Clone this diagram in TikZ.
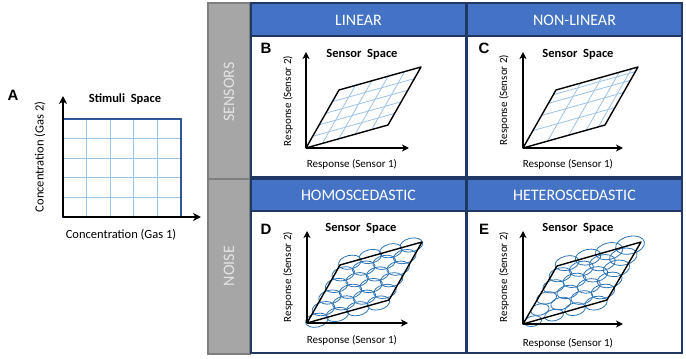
\documentclass[tikz,border=0pt]{standalone}
\usepackage{fontspec}
\setmainfont{Carlito}
\newfontfamily\letterfont{Liberation Sans}
\usetikzlibrary{arrows.meta,calc}
\definecolor{hdrblue}{HTML}{4472C4}
\definecolor{darkblue}{HTML}{203864}
\definecolor{graycol}{HTML}{A6A6A6}
\definecolor{grayborder}{HTML}{7F7F7F}
\definecolor{gridblue}{HTML}{9DC3E6}
\definecolor{ellblue}{HTML}{2E75B6}
\definecolor{rectblue}{HTML}{2F5597}
\definecolor{sidetxt}{HTML}{E4E4E4}
\tikzset{
  ax/.style={line width=1.8pt, -{Stealth[length=7pt,width=7pt,inset=2pt]}},
  bigax/.style={line width=2.8pt, -{Stealth[length=8pt,width=8pt,inset=2.5pt]}},
  para/.style={line width=1.4pt, line join=round},
  gridl/.style={draw=gridblue, line width=0.8pt},
  ell/.style={draw=ellblue, line width=0.8pt},
  hdr/.style={fill=hdrblue, draw=darkblue, line width=1.5pt},
  panel/.style={fill=white, draw=darkblue, line width=1.5pt},
  side/.style={fill=graycol, draw=grayborder, line width=1.5pt},
  hdrtxt/.style={text=white, font=\fontsize{16}{18}\selectfont},
  sidet/.style={text=sidetxt, rotate=90, font=\fontsize{16}{18}\selectfont},
  lett/.style={font=\letterfont\fontsize{15}{17}\selectfont\bfseries},
  ttl/.style={font=\fontsize{12.5}{14}\selectfont\bfseries},
  axl/.style={font=\fontsize{11}{12}\selectfont},
  axlbig/.style={font=\fontsize{12.5}{14}\selectfont},
}
\begin{document}
\begin{tikzpicture}[x=1pt,y=-1pt]
\useasboundingbox (0,0) rectangle (686,359);
\fill[white] (0,0) rectangle (686,359);

% ---------- side gray column ----------
\draw[side] (208,3) rectangle (250,179);
\draw[side] (208,179) rectangle (250,354);
\node[sidet] (tsens) at (229,92) {SENSORS};
\node[sidet] (tnoise) at (229,266) {NOISE};

% ---------- headers and panels ----------
\draw[hdr] (251,3) rectangle (466,36);
\draw[hdr] (467,3) rectangle (682,36);
\draw[panel] (251,36) rectangle (466,177);
\draw[panel] (467,36) rectangle (682,177);
\draw[hdr] (251,179) rectangle (466,211);
\draw[hdr] (467,179) rectangle (682,211);
\draw[panel] (251,211) rectangle (466,353);
\draw[panel] (467,211) rectangle (682,353);
\node[hdrtxt] (hlin) at (358.5,20) {LINEAR};
\node[hdrtxt] (hnon) at (574.5,20) {NON-LINEAR};
\node[hdrtxt] (hhom) at (358.5,195.5) {HOMOSCEDASTIC};
\node[hdrtxt] (hhet) at (574.5,195.5) {HETEROSCEDASTIC};

% ---------- panel A: stimuli space ----------
\foreach \k in {1,...,4}{
  \draw[gridl] ({63+\k*118/5},217) -- ({63+\k*118/5},119);
  \draw[gridl] (63,{217-\k*98/5}) -- (181,{217-\k*98/5});
}
\draw[draw=rectblue, line width=1.2pt] (63,217) rectangle (181,119);
\coordinate (oA) at (63,217);
\coordinate (yA) at (63,96);
\coordinate (xA) at (201,217);
\draw[bigax] (oA) -- (yA);
\draw[bigax] (oA) -- (xA);
\node[lett] (lA) at (13,95) {A};
\node[ttl] (tA) at (125,99) {Stimuli\ \ Space};
\node[axlbig, rotate=90] (yAl) at (40,157) {Concentration (Gas 2)};
\node[axlbig] (xAl) at (121,235) {Concentration (Gas 1)};

% ---------- panel B: linear ----------
\begin{scope}[shift={(306,148)}]
  \foreach \k in {1,...,4}{
    \draw[gridl] ({\k/5*82},{\k/5*-23}) -- ++(33,-58);
    \draw[gridl] ({\k/5*33},{\k/5*-58}) -- ++(82,-23);
  }
  \draw[para] (0,0) -- (33,-58) -- (115,-81) -- (82,-23) -- cycle;
  \coordinate (oB) at (0,0);
  \coordinate (yB) at (0,-96);
  \coordinate (xB) at (103,0);
  \draw[ax] (oB) -- (yB);
  \draw[ax] (oB) -- (xB);
\end{scope}
\node[lett] (lB) at (266,48) {B};
\node[ttl] (tB) at (362,54) {Sensor\ \ Space};
\node[axl, rotate=90] (yBl) at (288,101) {Response (Sensor 2)};
\node[axl] (xBl) at (352,164) {Response (Sensor 1)};

% ---------- panel C: non-linear ----------
\begin{scope}[shift={(523,148)}]
  \foreach \f in {0.3,0.56,0.77,0.92}{
    \draw[gridl] ({\f*82},{\f*-23}) -- ++(33,-58);
    \draw[gridl] ({\f*33},{\f*-58}) -- ++(82,-23);
  }
  \draw[para] (0,0) -- (33,-58) -- (115,-81) -- (82,-23) -- cycle;
  \coordinate (oC) at (0,0);
  \coordinate (yC) at (0,-96);
  \coordinate (xC) at (100,0);
  \draw[ax] (oC) -- (yC);
  \draw[ax] (oC) -- (xC);
\end{scope}
\node[lett] (lC) at (484,48) {C};
\node[ttl] (tC) at (578,54) {Sensor\ \ Space};
\node[axl, rotate=90] (yCl) at (504,100) {Response (Sensor 2)};
\node[axl] (xCl) at (568,164) {Response (Sensor 1)};

% ---------- panel D: homoscedastic ----------
\begin{scope}[shift={(307,323)}]
  \foreach \j in {0,...,5}{
    \foreach \i in {0,...,3}{
      \pgfmathsetmacro\u{0.12+\i*0.25}
      \pgfmathsetmacro\v{\j/5}
      \pgfmathsetmacro\cx{\u*82+\v*33}
      \pgfmathsetmacro\cy{\u*-23+\v*-58}
      \draw[ell, rotate around={13:(\cx,\cy)}] (\cx,\cy) ellipse [x radius=11.5, y radius=6.8];
    }
  }
  \draw[para] (0,0) -- (33,-58) -- (115,-81) -- (82,-23) -- cycle;
  \coordinate (oD) at (0,0);
  \coordinate (yD) at (0,-92);
  \coordinate (xD) at (101,0);
  \draw[ax] (oD) -- (yD);
  \draw[ax] (oD) -- (xD);
\end{scope}
\node[lett] (lD) at (266,229) {D};
\node[ttl] (tD) at (361,228) {Sensor\ \ Space};
\node[axl, rotate=90] (yDl) at (288,277) {Response (Sensor 2)};
\node[axl] (xDl) at (352,340) {Response (Sensor 1)};

% ---------- panel E: heteroscedastic ----------
\begin{scope}[shift={(523,324)}]
  \foreach \j in {0,...,5}{
    \foreach \i in {0,...,3}{
      \pgfmathsetmacro\u{0.12+\i*0.25}
      \pgfmathsetmacro\v{\j/5}
      \pgfmathsetmacro\cx{\u*84+\v*34}
      \pgfmathsetmacro\cy{\u*-24+\v*-58}
      \pgfmathsetmacro\s{0.72+0.3*(\u+\v)}
      \draw[ell, rotate around={13:(\cx,\cy)}] (\cx,\cy) ellipse [x radius={11.5*\s}, y radius={6.8*\s}];
    }
  }
  \draw[para] (0,0) -- (34,-58) -- (118,-82) -- (84,-24) -- cycle;
  \coordinate (oE) at (0,0);
  \coordinate (yE) at (0,-93);
  \coordinate (xE) at (100,0);
  \draw[ax] (oE) -- (yE);
  \draw[ax] (oE) -- (xE);
\end{scope}
\node[lett] (lE) at (484,229) {E};
\node[ttl] (tE) at (578,228) {Sensor\ \ Space};
\node[axl, rotate=90] (yEl) at (504,277) {Response (Sensor 2)};
\node[axl] (xEl) at (568,343) {Response (Sensor 1)};
\end{tikzpicture}
\end{document}
